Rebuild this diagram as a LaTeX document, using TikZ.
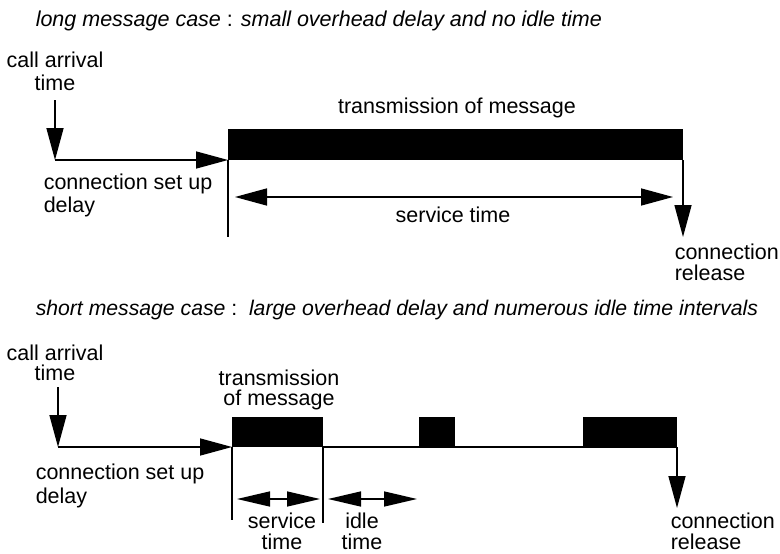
\documentclass[tikz,border=0pt]{standalone}
\usepackage{fontspec}
\setmainfont{Liberation Sans}
\usetikzlibrary{arrows.meta}

\begin{document}
\begin{tikzpicture}[x=1pt,y=-1pt,>={Triangle[length=32pt,width=17pt]},
	font=\fontsize{21.5}{22.5}\selectfont, line width=1.5pt, line join=round,
	txt/.style={inner sep=0pt, align=left, anchor=base west}, ctxt/.style={inner sep=0pt, align=center, anchor=base},
	tight/.style={font=\fontsize{21.5}{#1}\selectfont}]
	\useasboundingbox (0,0) rectangle (780,554);
	% long message case
	\node[txt, tight=22] (title1) at (35,27) {\itshape long message case\/ \upshape: \itshape small overhead delay and no idle time};
	\node[ctxt, tight=23] (arr1) at (55,90) {call arrival\\time};
	\coordinate (a1) at (55,100); \coordinate (o1) at (55,160);
	\coordinate (s1) at (228,160); \coordinate (e1) at (683,160);
	\coordinate (t1) at (228,237); \coordinate (r1) at (683,237);
	\fill (228,129) rectangle (e1);
	\draw[->] (a1)--(o1);
	\draw[->] (o1)--(s1);
	\draw (s1)--(t1);
	\draw[<->] (235,197) coordinate (sl1) -- (673,197) coordinate (sr1);
	\draw[->] (e1)--(r1);
	\node[ctxt] (msg1) at (457,113) {transmission of message};
	\node[ctxt] (serv1) at (453,222) {service time};
	\node[txt, tight=23] (del1) at (43,212) {connection set up\\delay};
	\node[txt, tight=21] (rel1) at (674,280) {connection\\release};
	% short message case
	\node[txt, font=\fontsize{21.2}{22}\selectfont] (title2) at (35,315) {\itshape short message case\/ \upshape:\ \ \itshape large overhead delay and numerous idle time intervals};
	\node[ctxt, tight=19.5] (arr2) at (55,380) {call arrival\\time};
	\coordinate (a2) at (58,387); \coordinate (o2) at (58,447);
	\coordinate (s2) at (232,447); \coordinate (e2) at (677,447);
	\coordinate (t2) at (232,520); \coordinate (u2) at (323,447);
	\coordinate (v2) at (323,523); \coordinate (r2) at (677,508);
	\fill (232,417) rectangle (u2);
	\fill (419,417) rectangle (455,447);
	\fill (583,417) rectangle (e2);
	\draw[->] (a2)--(o2);
	\draw[->] (o2)--(s2);
	\draw (u2)--(e2);
	\draw (s2)--(t2) (u2)--(v2);
	\draw[{Triangle[length=33pt,width=15pt]}-{Triangle[length=33pt,width=15pt]}] (237,499) coordinate (sl2) -- (320,499) coordinate (sr2);
	\draw[{Triangle[length=33pt,width=15pt]}-{Triangle[length=33pt,width=15pt]}] (328,499) coordinate (il2) -- (417,499) coordinate (ir2);
	\draw[->] (e2)--(r2);
	\node[ctxt, tight=20] (msg2) at (279,405) {transmission\\of message};
	\node[txt, tight=24] (del2) at (35,503) {connection set up\\delay};
	\node[ctxt, tight=21] (serv2) at (282,549) {service\\time};
	\node[ctxt, tight=21] (idle2) at (362,549) {idle\\time};
	\node[txt, tight=21] (rel2) at (670,549) {connection\\release};
\end{tikzpicture}
\end{document}
